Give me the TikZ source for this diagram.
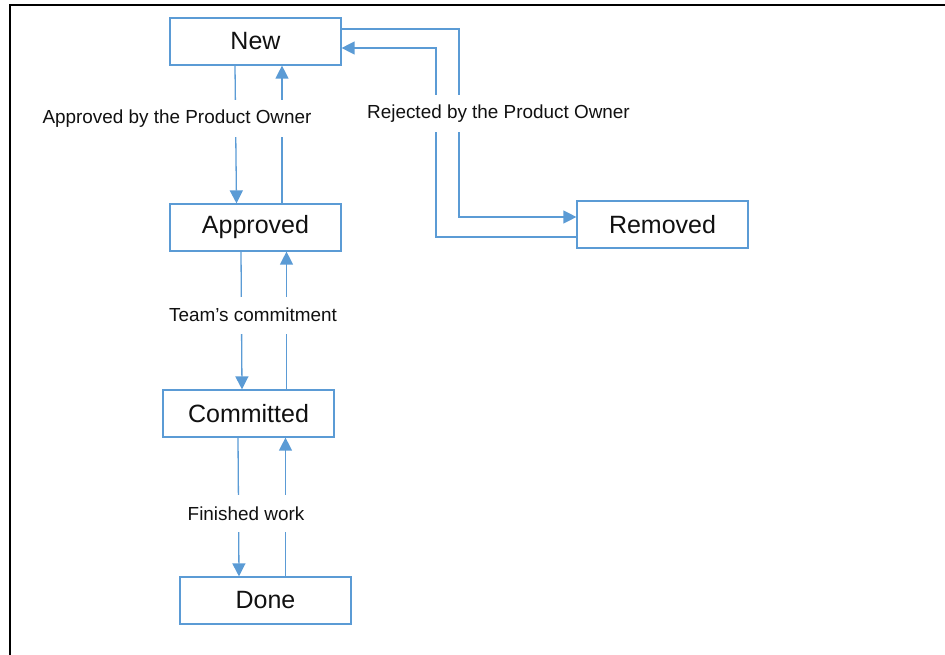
\documentclass[tikz,border=0pt]{standalone}
\usepackage{fontspec}
\setmainfont{Liberation Sans}
\usetikzlibrary{arrows.meta}
\definecolor{lineblue}{HTML}{5B9BD5}
\definecolor{txt}{HTML}{111111}
\begin{document}
\begin{tikzpicture}[x=1pt,y=-1pt,
  state/.style={draw=lineblue,line width=1.2pt,fill=white,minimum width=171pt,minimum height=47pt,inner sep=0pt,
    text=txt,font=\fontsize{25}{29}\selectfont},
  lbl/.style={fill=white,inner xsep=3pt,minimum height=37pt,text=txt,font=\fontsize{18.9}{22}\selectfont},
  conn/.style={draw=lineblue,line width=1.3pt},
  arr/.style={conn,-{Triangle[length=13pt,width=13pt]}}]
\useasboundingbox (0,0) rectangle (945,655);
\draw[line width=2pt,black] (945,5) -- (10,5) -- (10,655);

\node[state] (New) at (255.5,41.5) {New};
\node[state] (Approved) at (255.5,227.5) {Approved};
\node[state] (Committed) at (248.5,413.5) {Committed};
\node[state] (Done) at (265.5,600.5) {Done};
\node[state] (Removed) at (662.5,224.5) {Removed};

% vertical transitions
\draw[arr] (New.south -| 235,0) -- (Approved.north -| 236.5,0);
\draw[arr] (Approved.north -| 282,0) -- (New.south -| 282,0);
\draw[arr] (Approved.south -| 241,0) -- (Committed.north -| 242,0);
\draw[arr] (Committed.north -| 286.5,0) -- (Approved.south -| 286.5,0);
\draw[arr] (Committed.south -| 238,0) -- (Done.north -| 239,0);
\draw[arr] (Done.north -| 285.5,0) -- (Committed.south -| 285.5,0);

% rejection loop
\draw[arr] (New.east |- 0,29) -| (459,217) -- (Removed.west |- 0,217);
\draw[arr] (Removed.west |- 0,237) -| (436,48) -- (New.east |- 0,48);

% labels
\node[lbl] (l1) at (177,119) {Approved by the Product Owner};
\node[lbl] (l2) at (498.5,113.5) {Rejected by the Product Owner};
\node[lbl] (l3) at (253,315) {Team’s commitment};
\node[lbl] (l4) at (246,513.5) {Finished work};
\end{tikzpicture}
\end{document}
